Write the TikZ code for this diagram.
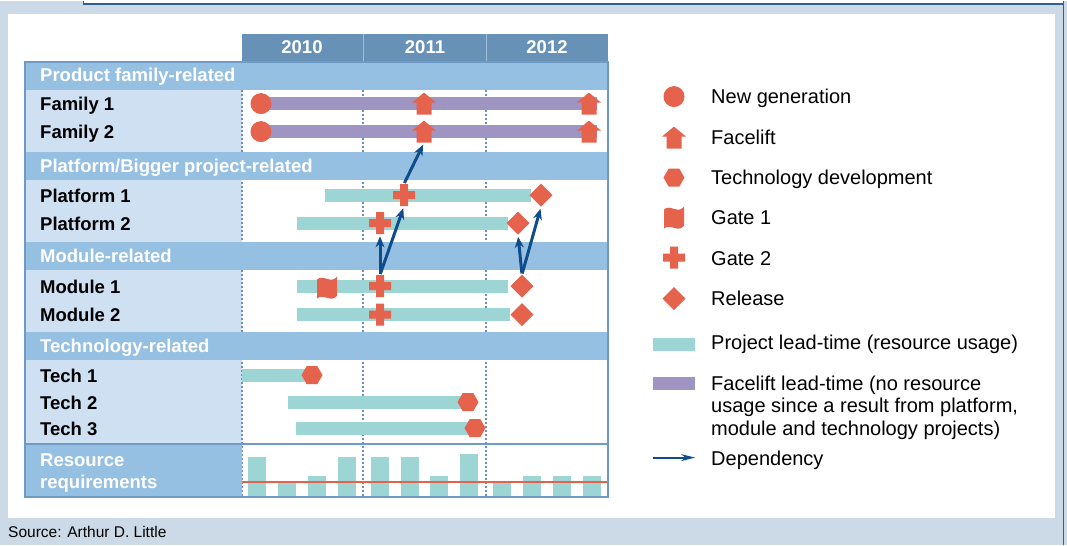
\documentclass[tikz,border=0pt]{standalone}
\usepackage{fontspec}
\setmainfont{Liberation Sans}
\definecolor{adlBack}{HTML}{CCD9E6}
\definecolor{adlEdge}{HTML}{2F5F95}
\definecolor{adlFrame}{HTML}{6F9AC6}
\definecolor{adlHead}{HTML}{6891B8}
\definecolor{adlSection}{HTML}{96C0E2}
\definecolor{adlLabel}{HTML}{CFE0F2}
\definecolor{adlGrid}{HTML}{6A8FC0}
\definecolor{adlTeal}{HTML}{9DD5D5}
\definecolor{adlPurple}{HTML}{9E95C3}
\definecolor{adlRed}{HTML}{E5634D}
\definecolor{adlArrow}{HTML}{0F4C8C}
\usepackage{tikz}
\usetikzlibrary{
	arrows.meta,
	shapes.geometric
}

\begin{document}
\begin{tikzpicture}[x=1pt,y=-1pt,
	rowlabel/.style={anchor=base west,inner sep=0pt,font=\bfseries\fontsize{18.5}{22}\selectfont},
	seclabel/.style={rowlabel,text=white},
	yearlabel/.style={anchor=base,inner sep=0pt,text=white,font=\bfseries\fontsize{18.5}{22}\selectfont},
	legtext/.style={anchor=base west,inner sep=0pt,font=\fontsize{20}{24}\selectfont},
	newgen/.style={circle,fill=adlRed,minimum size=21,inner sep=0pt},
	techdev/.style={regular polygon,regular polygon sides=6,fill=adlRed,minimum size=21,inner sep=0pt},
	release/.style={diamond,fill=adlRed,minimum width=23,minimum height=23,inner sep=0pt},
	facelift/.style={rectangle,minimum width=24,minimum height=22,inner sep=0pt,
		path picture={\fill[adlRed,shift={(path picture bounding box.center)}]
			(0pt,11pt) -- (12pt,1pt) -- (7.5pt,1pt) -- (7.5pt,-11pt) -- (-7.5pt,-11pt)
			-- (-7.5pt,1pt) -- (-12pt,1pt) -- cycle;}},
	gateone/.style={rectangle,minimum width=20,minimum height=26,inner sep=0pt,
		path picture={\fill[adlRed,shift={(path picture bounding box.center)}]
			(-10pt,-12pt) -- (-10pt,7pt) .. controls (-4pt,13pt) and (4pt,2pt) .. (10pt,10pt)
			-- (10pt,-9pt) .. controls (4pt,-17pt) and (-4pt,-6pt) .. (-10pt,-12pt) -- cycle;}},
	gatetwo/.style={rectangle,minimum size=22,inner sep=0pt,
		path picture={\fill[adlRed,shift={(path picture bounding box.center)}]
			(-11pt,-4pt) rectangle (11pt,4pt) (-4pt,-11pt) rectangle (4pt,11pt);}},
	dep/.style={adlArrow,line width=3pt,shorten <=1pt,shorten >=2pt,-{Stealth[length=11pt,width=9pt]}}
]
	% page and panel
	\fill[adlBack] (0,0) rectangle (1067,544);
	\fill[white] (84,0) rectangle (1063,3.5);
	\draw[adlEdge,line width=1.2pt] (83.5,0) -- (83.5,3.5) -- (1063,3.5);
	\draw[adlEdge,line width=1.2pt] (1063.5,0) -- (1063.5,544);
	\fill[white] (8,13) rectangle (1055,517);

	% table body
	\fill[adlLabel] (25,61) rectangle (242,443);
	\fill[adlHead] (242,33) rectangle (608,60);
	\foreach \x in {363,486}{\draw[adlHead!60!white,line width=0.8pt] (\x,33) -- (\x,60);}
	\foreach \x in {242,363,486}{\draw[adlGrid,line width=1.2pt,dash pattern=on 2pt off 2pt] (\x,61) -- (\x,496);}
	\foreach \y in {61,151,241,331}{\fill[adlSection] (25,\y) rectangle (608,\y+28);}
	\fill[adlSection] (25,443) rectangle (242,496);

	% resource bars
	\foreach \x/\h in {248/456,278/482,308/475,338/456,371/456,401/456,430/475,460/453,493/482,523/475,553/475,583/475}
		{\fill[adlTeal] (\x,496) rectangle (\x+18,\h);}
	\draw[adlRed!70!white,line width=2.6pt] (242,481.5) -- (608,481.5);
	\draw[adlRed,line width=1.3pt] (242,481.5) -- (608,481.5);
	\draw[adlFrame,line width=2pt] (25,443) -- (608,443);
	\draw[adlFrame,line width=2pt] (25,61) rectangle (608,496);

	% headings
	\node[yearlabel] (y2010) at (302,53) {2010};
	\node[yearlabel] (y2011) at (425,53) {2011};
	\node[yearlabel] (y2012) at (547,53) {2012};
	\node[seclabel] (secfam) at (40,81) {Product family-related};
	\node[seclabel] (secplat) at (40,171.5) {Platform/Bigger project-related};
	\node[seclabel] (secmod) at (40,261.5) {Module-related};
	\node[seclabel] (sectech) at (40,351.5) {Technology-related};
	\node[seclabel] (secres1) at (40,466) {Resource};
	\node[seclabel] (secres2) at (40,487.5) {requirements};
	\foreach \y/\t/\n in {103/Family 1/fam1,131/Family 2/fam2,194.5/Platform 1/plat1,222.5/Platform 2/plat2,
		285.5/Module 1/mod1,314/Module 2/mod2,374.5/Tech 1/tech1,401.5/Tech 2/tech2,427.5/Tech 3/tech3}
		{\node[rowlabel] (\n) at (40,\y+7) {\t};}

	% lead-time bars
	\fill[adlPurple] (261,96.5) rectangle (597,109.5);
	\fill[adlPurple] (261,124.5) rectangle (597,137.5);
	\foreach \a/\b/\y in {325/531/194.5,297/508/222.5,297/508/285.5,297/510/314,242/312/374.5,288/468/401.5,296/475/427.5}
		{\fill[adlTeal] (\a,\y-6.5) rectangle (\b,\y+6.5);}

	% milestones
	\node[newgen] (f1gen) at (261,103) {};
	\node[facelift] (f1lift1) at (424,103) {};
	\node[facelift] (f1lift2) at (589,103) {};
	\node[newgen] (f2gen) at (261,131) {};
	\node[facelift] (f2lift1) at (424,131) {};
	\node[facelift] (f2lift2) at (589,131) {};
	\node[gatetwo] (p1g2) at (404,194.5) {};
	\node[release] (p1rel) at (541,194.5) {};
	\node[gatetwo] (p2g2) at (380,222.5) {};
	\node[release] (p2rel) at (518,222.5) {};
	\node[gateone] (m1g1) at (327,286) {};
	\node[gatetwo] (m1g2) at (380,285.5) {};
	\node[release] (m1rel) at (522,285.5) {};
	\node[gatetwo] (m2g2) at (380,314) {};
	\node[release] (m2rel) at (522,314) {};
	\node[techdev] (t1dev) at (312,374.5) {};
	\node[techdev] (t2dev) at (468,401.5) {};
	\node[techdev] (t3dev) at (475,427.5) {};

	% dependencies
	\draw[dep] (p1g2.north) -- (f2lift1.south);
	\draw[dep] (m1g2.north) -- (p2g2.south);
	\draw[dep] (m1g2.north) -- (p1g2.south);
	\draw[dep] (m1rel.north) -- (p2rel.south);
	\draw[dep] (m1rel.north) -- (p1rel.south);

	% legend
	\node[newgen] (lggen) at (674,96) {};
	\node[facelift] (lglift) at (674,137) {};
	\node[techdev] (lgtech) at (674,177) {};
	\node[gateone] (lggate1) at (674,216) {};
	\node[gatetwo] (lggate2) at (674,257) {};
	\node[release] (lgrel) at (674,298) {};
	\node[fill=adlTeal,minimum width=42,minimum height=13,inner sep=0pt] (lgproj) at (674,343.5) {};
	\node[fill=adlPurple,minimum width=42,minimum height=13,inner sep=0pt] (lgface) at (674,382.5) {};
	\coordinate (lgdepa) at (653,457);
	\coordinate (lgdepb) at (695,457);
	\draw[adlArrow,line width=2pt,-{Stealth[length=14pt,width=7pt]}] (lgdepa) -- (lgdepb);
	\node[legtext] (lggentxt) at (711,103) {New generation};
	\node[legtext] (lgfacetxt) at (711,144) {Facelift};
	\node[legtext] (lgtechtxt) at (711,184) {Technology development};
	\node[legtext] (lggate1txt) at (711,224) {Gate 1};
	\node[legtext] (lggate2txt) at (711,264.5) {Gate 2};
	\node[legtext] (lgreltxt) at (711,305) {Release};
	\node[legtext] (lgprojtxt) at (711,349) {Project lead-time (resource usage)};
	\node[legtext] (lgfltxt1) at (711,389.5) {Facelift lead-time (no resource};
	\node[legtext] (lgfltxt2) at (711,412) {usage since a result from platform,};
	\node[legtext] (lgfltxt3) at (711,434.5) {module and technology projects)};
	\node[legtext] (lgdeptxt) at (711,464.5) {Dependency};

	% footnote
	\node[anchor=base west,inner sep=0pt,font=\fontsize{15.5}{18}\selectfont] (source) at (8,537) {Source: Arthur D. Little};
\end{tikzpicture}
\end{document}
